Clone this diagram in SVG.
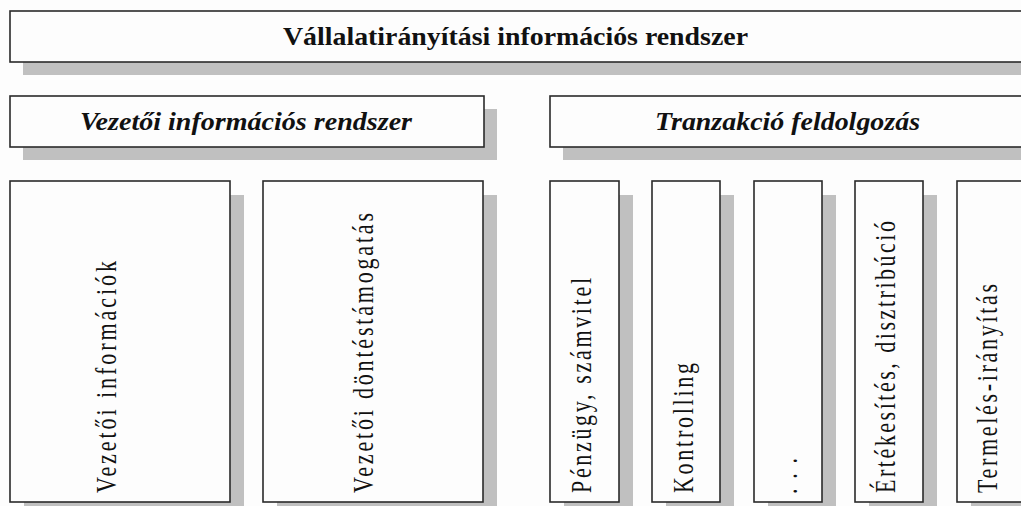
<svg xmlns="http://www.w3.org/2000/svg" width="1021" height="506" viewBox="0 0 1021 506">
  <style>
    .shadow { fill: #c0c0c0; }
    .box { fill: #fdfdfd; stroke: #2a2a2a; stroke-width: 1.6; }
    text { font-family: 'Liberation Serif', 'DejaVu Serif', serif; fill: #111; }
    .title { font-weight: bold; font-size: 26px; }
    .sub { font-weight: bold; font-style: italic; font-size: 26px; }
    .vert { font-size: 22px; }
  </style>
  <rect x="0" y="0" width="1021" height="506" fill="#fdfdfd"/>

  <g id="root-system">
    <rect class="shadow" x="23" y="24" width="1010" height="51"/>
    <rect class="box" x="10" y="11" width="1020" height="51"/>
    <text class="title" font-family="Liberation Serif, DejaVu Serif, serif" x="283" y="45" textLength="465" lengthAdjust="spacingAndGlyphs">Vállalatirányítási információs rendszer</text>
  </g>

  <g id="management-info">
    <rect class="shadow" x="23" y="109" width="474" height="51"/>
    <rect class="box" x="10" y="96" width="474" height="51"/>
    <text class="sub" font-family="Liberation Serif, DejaVu Serif, serif" x="80" y="130" textLength="332" lengthAdjust="spacingAndGlyphs">Vezetői információs rendszer</text>
  </g>

  <g id="transaction-processing">
    <rect class="shadow" x="563" y="109" width="470" height="51"/>
    <rect class="box" x="550" y="96" width="480" height="51"/>
    <text class="sub" font-family="Liberation Serif, DejaVu Serif, serif" x="655" y="130" textLength="265" lengthAdjust="spacingAndGlyphs">Tranzakció feldolgozás</text>
  </g>

  <g id="mgmt-information">
    <rect class="shadow" x="24" y="195" width="220" height="321"/>
    <rect class="box" x="10" y="181" width="220" height="321"/>
    <text class="vert" font-family="Liberation Serif, DejaVu Serif, serif" transform="translate(116 493) rotate(-90) scale(1 1.3)" textLength="232" lengthAdjust="spacing">Vezetői információk</text>
  </g>

  <g id="decision-support">
    <rect class="shadow" x="277" y="195" width="220" height="321"/>
    <rect class="box" x="263" y="181" width="220" height="321"/>
    <text class="vert" font-family="Liberation Serif, DejaVu Serif, serif" transform="translate(373 493) rotate(-90) scale(1 1.3)" textLength="280" lengthAdjust="spacing">Vezetői döntéstámogatás</text>
  </g>

  <g id="finance">
    <rect class="shadow" x="564" y="195" width="69" height="321"/>
    <rect class="box" x="550" y="181" width="69" height="321"/>
    <text class="vert" font-family="Liberation Serif, DejaVu Serif, serif" transform="translate(591 493) rotate(-90) scale(1 1.3)" textLength="215" lengthAdjust="spacing">Pénzügy, számvitel</text>
  </g>

  <g id="controlling">
    <rect class="shadow" x="666" y="195" width="68" height="321"/>
    <rect class="box" x="652" y="181" width="68" height="321"/>
    <text class="vert" font-family="Liberation Serif, DejaVu Serif, serif" transform="translate(693 493) rotate(-90) scale(1 1.3)" textLength="130" lengthAdjust="spacing">Kontrolling</text>
  </g>

  <g id="other">
    <rect class="shadow" x="768" y="195" width="68" height="321"/>
    <rect class="box" x="754" y="181" width="68" height="321"/>
    <text class="vert" font-family="Liberation Serif, DejaVu Serif, serif" transform="translate(797 494) rotate(-90) scale(1 1.3)" textLength="36" lengthAdjust="spacing">. . .</text>
  </g>

  <g id="sales">
    <rect class="shadow" x="869" y="195" width="68" height="321"/>
    <rect class="box" x="855" y="181" width="68" height="321"/>
    <text class="vert" font-family="Liberation Serif, DejaVu Serif, serif" transform="translate(895 493) rotate(-90) scale(1 1.3)" textLength="272" lengthAdjust="spacing">Értékesítés, disztribúció</text>
  </g>

  <g id="production">
    <rect class="shadow" x="971" y="195" width="68" height="321"/>
    <rect class="box" x="957" y="181" width="80" height="321"/>
    <text class="vert" font-family="Liberation Serif, DejaVu Serif, serif" transform="translate(997 493) rotate(-90) scale(1 1.3)" textLength="209" lengthAdjust="spacing">Termelés-irányítás</text>
  </g>

  <g id="connectors"></g>
</svg>
